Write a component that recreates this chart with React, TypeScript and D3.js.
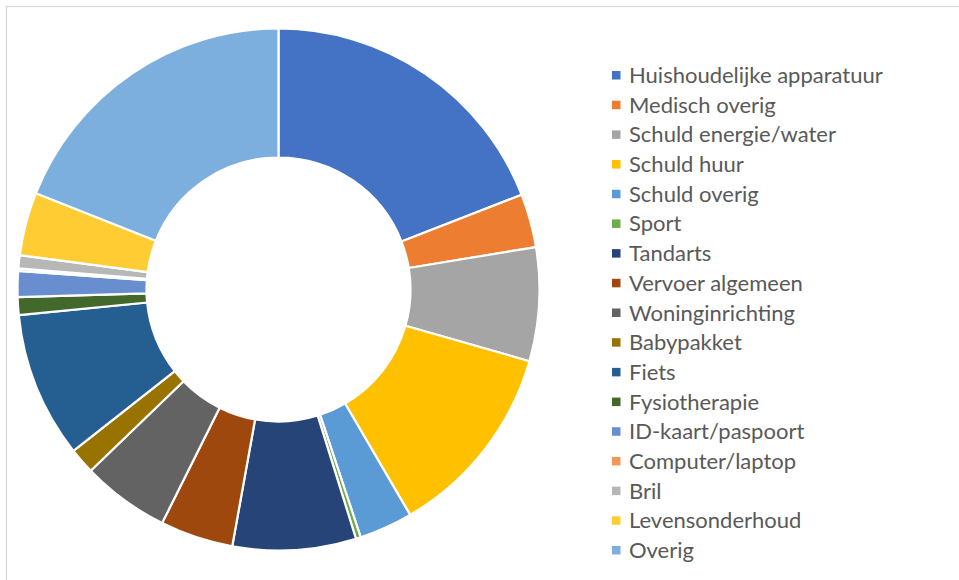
import React from "react";
import * as d3 from "d3";

const categories = [
  "Huishoudelijke apparatuur",
  "Medisch overig",
  "Schuld energie/water",
  "Schuld huur",
  "Schuld overig",
  "Sport",
  "Tandarts",
  "Vervoer algemeen",
  "Woninginrichting",
  "Babypakket",
  "Fiets",
  "Fysiotherapie",
  "ID-kaart/paspoort",
  "Computer/laptop",
  "Bril",
  "Levensonderhoud",
  "Overig",
];

const values = [190, 33, 70, 121, 33, 3, 76, 45, 54, 16, 90, 11, 16, 1.5, 8, 39, 189];

const colors = [
  "#4472C4", "#ED7D31", "#A5A5A5", "#FFC000", "#5B9BD5", "#70AD47",
  "#264478", "#9E480E", "#636363", "#997300", "#255E91", "#43682B",
  "#698ED0", "#F1975A", "#B7B7B7", "#FFCD33", "#7CAFDD",
];

export default function App() {
  const W = 959, H = 580;
  const cx = 278.5, cy = 289.5, rOuter = 261, rInner = 132;
  const pie = d3.pie<number>().sort(null).value((d) => d);
  const arcs = pie(values);
  const arc = d3.arc<d3.PieArcDatum<number>>().innerRadius(rInner).outerRadius(rOuter);
  const legendY = d3.scalePoint<string>().domain(categories).range([75.5, 550.5]);

  return (
    <svg width={W} height={H} style={{ position: "absolute", left: 0, top: 0 }}>
      <rect x={0} y={0} width={W} height={H} fill="#ffffff" />
      <rect x={6.5} y={6.5} width={1000} height={1000} fill="none" stroke="#d9d9d9" strokeWidth={1.3} />
      <g transform={`translate(${cx},${cy})`}>
        {arcs.map((a, i) => (
          <path key={categories[i]} d={arc(a) || ""} fill={colors[i]} stroke="#ffffff" strokeWidth={2.2} strokeLinejoin="round" />
        ))}
      </g>
      <g>
        {categories.map((c, i) => {
          const y = legendY(c) as number;
          return (
            <g key={c}>
              <rect x={612} y={y - 4.5} width={8.5} height={8.5} fill={colors[i]} />
              <text x={629} y={y + 7.5} fontFamily="Lato, 'Open Sans', sans-serif" fontSize={22} fill="#595959">
                {c}
              </text>
            </g>
          );
        })}
      </g>
    </svg>
  );
}
